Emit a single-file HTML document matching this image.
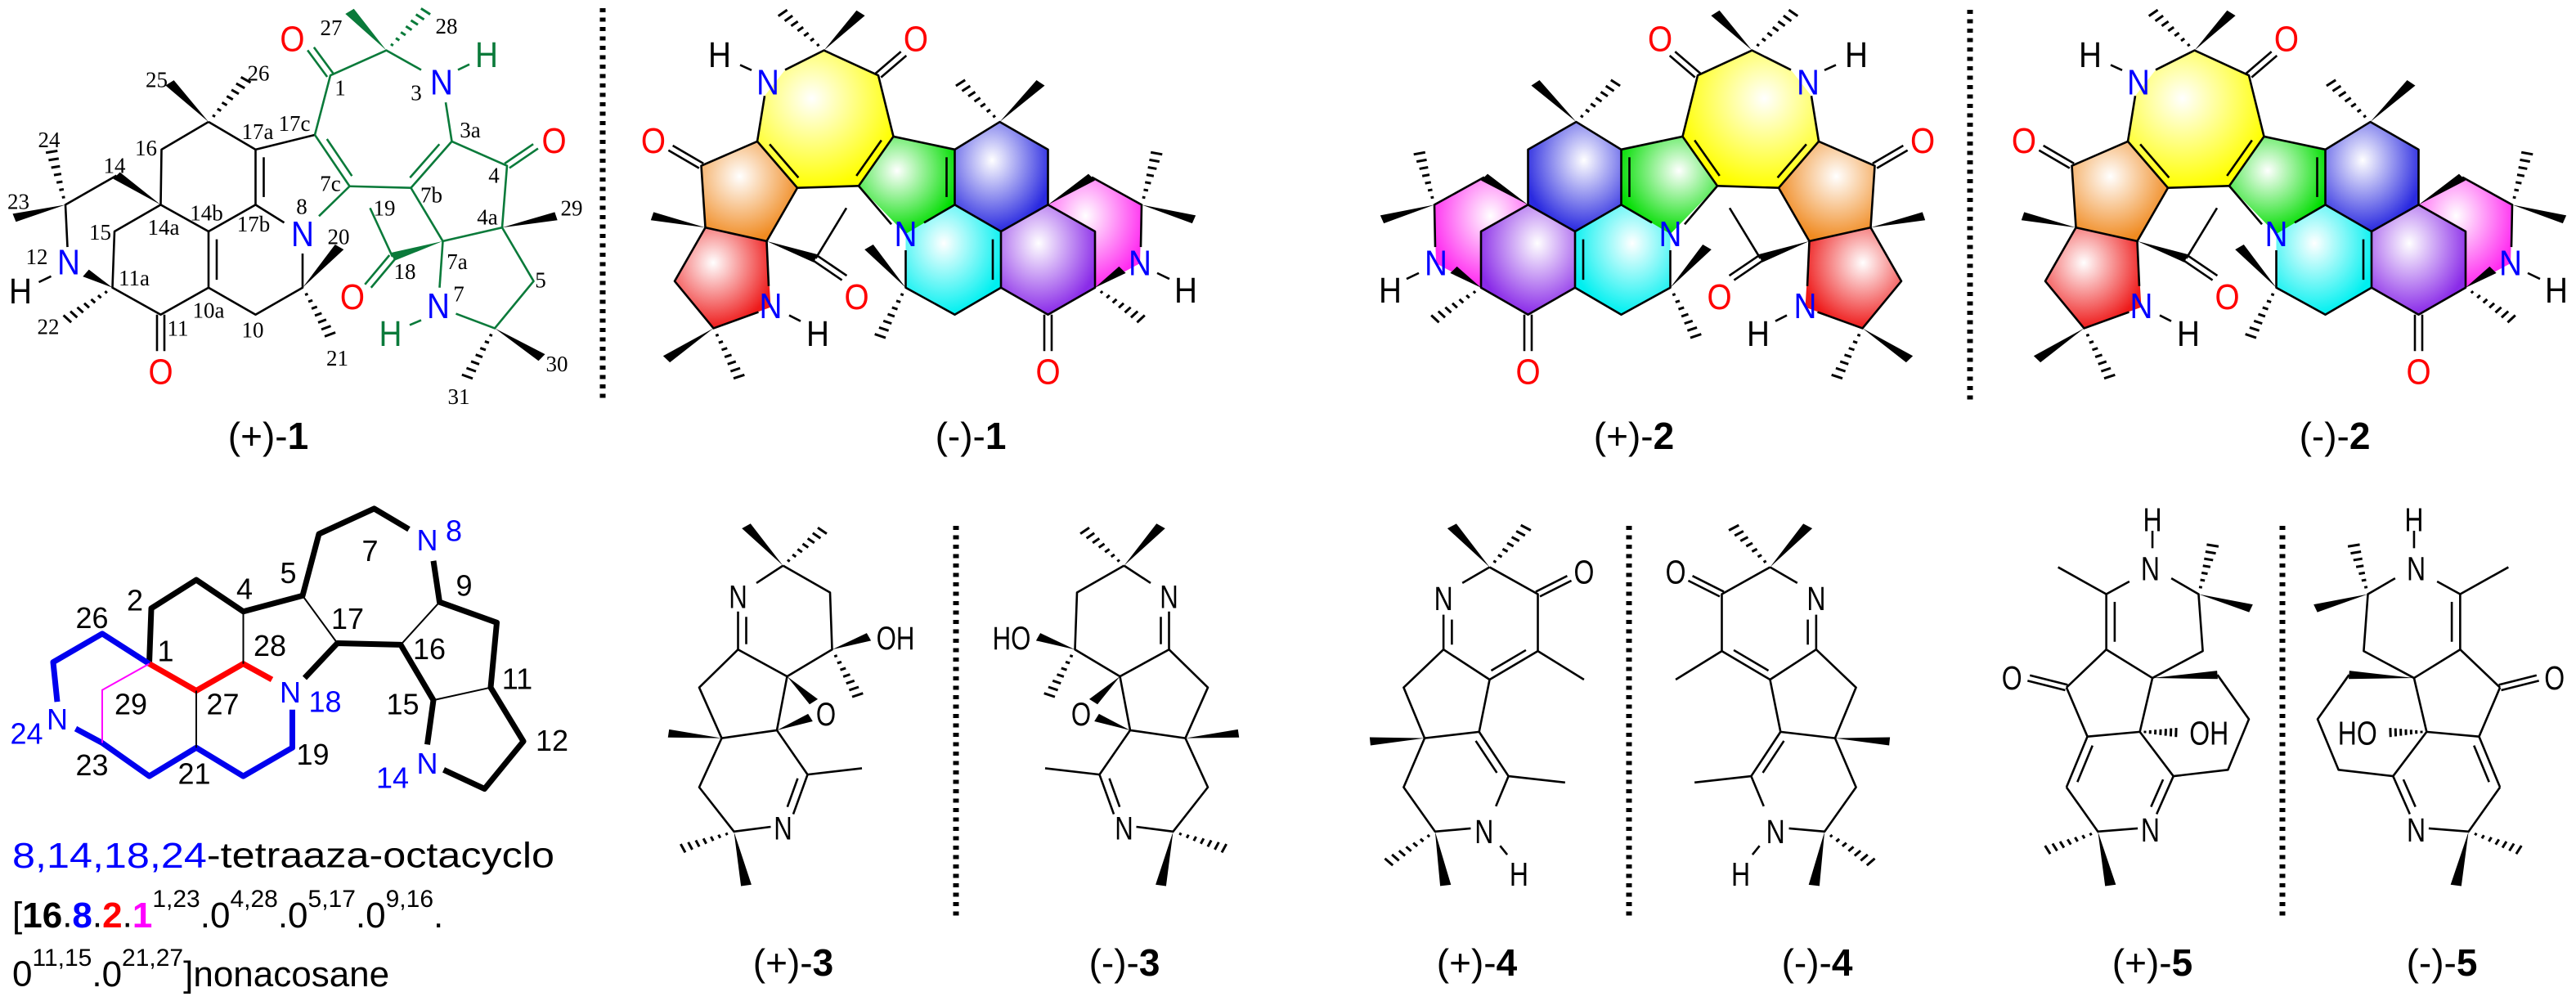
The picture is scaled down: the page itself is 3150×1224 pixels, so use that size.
<!DOCTYPE html>
<html><head><meta charset="utf-8">
<style>
html,body{margin:0;padding:0;background:#fff;}
svg{display:block;}
text{text-anchor:middle;dominant-baseline:central;}
.sans{font-family:"Liberation Sans",sans-serif;}
.serif{font-family:"Liberation Serif",serif;}
.a1{transform-box:fill-box;transform-origin:center;transform:scale(0.88,1.258);}
.n1{transform-box:fill-box;transform-origin:center;transform:scale(1,1.258);}
.b2{transform-box:fill-box;transform-origin:center;transform:scale(0.78,1.2915);}
.b7{transform-box:fill-box;transform-origin:center;transform:scale(0.78,1.3246);}
.c2{transform-box:fill-box;transform-origin:center;transform:scale(1,1.2915);}
</style></head><body>
<svg id="s" xmlns="http://www.w3.org/2000/svg" width="3150" height="1224" viewBox="0 0 3150 1224">
<defs>
<radialGradient id="gY" cx="40%" cy="35%" r="65%"><stop offset="0" stop-color="#fff"/><stop offset="1" stop-color="#ffff00"/></radialGradient>
<radialGradient id="gG" cx="40%" cy="35%" r="65%"><stop offset="0" stop-color="#fff"/><stop offset="1" stop-color="#00dd00"/></radialGradient>
<radialGradient id="gB" cx="40%" cy="35%" r="65%"><stop offset="0" stop-color="#fff"/><stop offset="1" stop-color="#2a2ae0"/></radialGradient>
<radialGradient id="gC" cx="40%" cy="35%" r="65%"><stop offset="0" stop-color="#fff"/><stop offset="1" stop-color="#00f0f0"/></radialGradient>
<radialGradient id="gP" cx="40%" cy="35%" r="65%"><stop offset="0" stop-color="#fff"/><stop offset="1" stop-color="#8a2be8"/></radialGradient>
<radialGradient id="gM" cx="40%" cy="35%" r="65%"><stop offset="0" stop-color="#fff"/><stop offset="1" stop-color="#ff2cf0"/></radialGradient>
<radialGradient id="gO" cx="40%" cy="35%" r="65%"><stop offset="0" stop-color="#fff"/><stop offset="1" stop-color="#f08a20"/></radialGradient>
<radialGradient id="gR" cx="40%" cy="35%" r="65%"><stop offset="0" stop-color="#fff"/><stop offset="1" stop-color="#ee1a1a"/></radialGradient>
</defs>

<g stroke="#000" stroke-width="7" stroke-dasharray="5 6.5">
<line x1="737" y1="10" x2="737" y2="491"/>
<line x1="2409" y1="12" x2="2409" y2="491"/>
<line x1="1169" y1="643" x2="1169" y2="1123"/>
<line x1="1992" y1="643" x2="1992" y2="1123"/>
<line x1="2791" y1="643" x2="2791" y2="1123"/>
</g>

<g id="g1" transform="translate(0,0) scale(0.5,0.39746)"></g>
<g id="g2" transform="translate(780,0) scale(0.5,0.39746)"></g>
<g id="g3" transform="translate(2370,0) scale(-0.5,0.39746)"></g>
<g id="g4" transform="translate(2456,0) scale(0.5,0.39746)"></g>
<g id="g5" transform="translate(0,620) scale(0.5,0.38715)"></g>
<g id="g6" transform="translate(780,620) scale(0.5,0.38715)"></g>
<g id="g7" transform="translate(1552,620) scale(-0.5,0.38715)"></g>
<g id="g8" transform="translate(1560,620) scale(0.51282,0.38715)"></g>
<g id="g9" transform="translate(2426,620) scale(-0.51282,0.38715)"></g>
<g id="g10" transform="translate(2350,620) scale(0.51282,0.38715)"></g>
<g id="g11" transform="translate(3234,620) scale(-0.51282,0.38715)"></g>

<g transform="translate(0,0) scale(0.5,0.39746)">
<g class="sans" font-size="88">
<text class="a1" x="715" y="118" fill="#f00">O</text>
<text class="a1" x="1080" y="252" fill="#00f">N</text>
<text class="a1" x="1190" y="168" fill="#0a7a3a">H</text>
<text class="a1" x="1355" y="432" fill="#f00">O</text>
<text class="a1" x="740" y="718" fill="#00f">N</text>
<text class="a1" x="168" y="805" fill="#00f">N</text>
<text class="a1" x="50" y="895" fill="#000">H</text>
<text class="a1" x="393" y="1142" fill="#f00">O</text>
<text class="a1" x="862" y="912" fill="#f00">O</text>
<text class="a1" x="1072" y="940" fill="#00f">N</text>
<text class="a1" x="955" y="1025" fill="#0a7a3a">H</text>
</g>
<g class="serif" font-size="54" fill="#000">
<text class="n1" x="810" y="85">27</text><text class="n1" x="1092" y="80">28</text>
<text class="n1" x="832" y="270">1</text><text class="n1" x="1018" y="285">3</text>
<text class="n1" x="383" y="245">25</text><text class="n1" x="632" y="225">26</text>
<text class="n1" x="630" y="405">17a</text><text class="n1" x="720" y="380">17c</text>
<text class="n1" x="1150" y="400">3a</text><text class="n1" x="120" y="430">24</text>
<text class="n1" x="357" y="455">16</text><text class="n1" x="280" y="510">14</text>
<text class="n1" x="45" y="620">23</text><text class="n1" x="1208" y="540">4</text>
<text class="n1" x="808" y="565">7c</text><text class="n1" x="1055" y="600">7b</text>
<text class="n1" x="940" y="640">19</text><text class="n1" x="1398" y="640">29</text>
<text class="n1" x="738" y="635">8</text><text class="n1" x="505" y="655">14b</text>
<text class="n1" x="620" y="690">17b</text><text class="n1" x="1192" y="668">4a</text>
<text class="n1" x="245" y="715">15</text><text class="n1" x="400" y="700">14a</text>
<text class="n1" x="828" y="728">20</text><text class="n1" x="90" y="790">12</text>
<text class="n1" x="328" y="855">11a</text><text class="n1" x="990" y="835">18</text>
<text class="n1" x="1118" y="805">7a</text><text class="n1" x="1322" y="862">5</text>
<text class="n1" x="1122" y="905">7</text><text class="n1" x="510" y="955">10a</text>
<text class="n1" x="435" y="1010">11</text><text class="n1" x="118" y="1005">22</text>
<text class="n1" x="618" y="1015">10</text><text class="n1" x="825" y="1102">21</text>
<text class="n1" x="1362" y="1120">30</text><text class="n1" x="1122" y="1220">31</text>
</g>
</g>

<g class="sans" font-size="88" transform="translate(780,0) scale(0.5,0.39746)">
<text class="a1" x="200" y="168">H</text>
<text class="a1" x="318" y="252" fill="#00f">N</text>
<text class="a1" x="680" y="118" fill="#f00">O</text>
<text class="a1" x="38" y="432" fill="#f00">O</text>
<text class="a1" x="655" y="718" fill="#00f">N</text>
<text class="a1" x="325" y="940" fill="#00f">N</text>
<text class="a1" x="440" y="1025">H</text>
<text class="a1" x="535" y="912" fill="#f00">O</text>
<text class="a1" x="1228" y="808" fill="#00f">N</text>
<text class="a1" x="1340" y="892">H</text>
<text class="a1" x="1003" y="1142" fill="#f00">O</text>
</g>
<g class="sans" font-size="88" transform="translate(2456,0) scale(0.5,0.39746)">
<text class="a1" x="200" y="168">H</text>
<text class="a1" x="318" y="252" fill="#00f">N</text>
<text class="a1" x="680" y="118" fill="#f00">O</text>
<text class="a1" x="38" y="432" fill="#f00">O</text>
<text class="a1" x="655" y="718" fill="#00f">N</text>
<text class="a1" x="325" y="940" fill="#00f">N</text>
<text class="a1" x="440" y="1025">H</text>
<text class="a1" x="535" y="912" fill="#f00">O</text>
<text class="a1" x="1228" y="808" fill="#00f">N</text>
<text class="a1" x="1340" y="892">H</text>
<text class="a1" x="1003" y="1142" fill="#f00">O</text>
</g>
<g class="sans" font-size="88" transform="translate(2370,0) scale(0.5,0.39746)">
<text class="a1" x="-200" y="168">H</text>
<text class="a1" x="-318" y="252" fill="#00f">N</text>
<text class="a1" x="-680" y="118" fill="#f00">O</text>
<text class="a1" x="-38" y="432" fill="#f00">O</text>
<text class="a1" x="-655" y="718" fill="#00f">N</text>
<text class="a1" x="-325" y="940" fill="#00f">N</text>
<text class="a1" x="-440" y="1025">H</text>
<text class="a1" x="-535" y="912" fill="#f00">O</text>
<text class="a1" x="-1228" y="808" fill="#00f">N</text>
<text class="a1" x="-1340" y="892">H</text>
<text class="a1" x="-1003" y="1142" fill="#f00">O</text>
</g>

<g class="sans" font-size="46" fill="#000">
<text x="328" y="533">(+)-<tspan font-weight="bold">1</tspan></text>
<text x="1187" y="533">(-)-<tspan font-weight="bold">1</tspan></text>
<text x="1998" y="533">(+)-<tspan font-weight="bold">2</tspan></text>
<text x="2855" y="533">(-)-<tspan font-weight="bold">2</tspan></text>
</g>

<g class="sans" transform="translate(0,620) scale(0.5,0.38715)">
<g font-size="72" fill="#00f">
<text class="c2" x="1045" y="105">N</text><text class="c2" x="1110" y="75">8</text>
<text class="c2" x="710" y="585">N</text><text class="c2" x="795" y="615">18</text>
<text class="c2" x="140" y="670">N</text><text class="c2" x="65" y="715">24</text>
<text class="c2" x="960" y="855">14</text><text class="c2" x="1045" y="810">N</text>
</g>
<g font-size="72" fill="#000">
<text class="c2" x="330" y="295">2</text><text class="c2" x="225" y="350">26</text>
<text class="c2" x="405" y="455">1</text><text class="c2" x="598" y="258">4</text>
<text class="c2" x="705" y="208">5</text><text class="c2" x="905" y="138">7</text>
<text class="c2" x="1135" y="248">9</text><text class="c2" x="850" y="352">17</text>
<text class="c2" x="660" y="438">28</text><text class="c2" x="1050" y="448">16</text>
<text class="c2" x="1265" y="542">11</text><text class="c2" x="985" y="622">15</text>
<text class="c2" x="545" y="622">27</text><text class="c2" x="320" y="622">29</text>
<text class="c2" x="225" y="815">23</text><text class="c2" x="475" y="842">21</text>
<text class="c2" x="765" y="782">19</text><text class="c2" x="1350" y="738">12</text>
</g>
</g>
<g class="sans" font-size="44" fill="#000" style="dominant-baseline:alphabetic">
<text x="15" y="1046" textLength="663" lengthAdjust="spacingAndGlyphs" style="text-anchor:start"><tspan fill="#00f">8,14,18,24</tspan>-tetraaza-octacyclo</text>
<text x="15" y="1119" style="text-anchor:start">[<tspan font-weight="bold">16</tspan>.<tspan font-weight="bold" fill="#00f">8</tspan>.<tspan font-weight="bold" fill="#f00">2</tspan>.<tspan font-weight="bold" fill="#f0f">1</tspan><tspan font-size="30" dy="-20">1,23</tspan><tspan dy="20">.0</tspan><tspan font-size="30" dy="-20">4,28</tspan><tspan dy="20">.0</tspan><tspan font-size="30" dy="-20">5,17</tspan><tspan dy="20">.0</tspan><tspan font-size="30" dy="-20">9,16</tspan><tspan dy="20">.</tspan></text>
<text x="15" y="1191" style="text-anchor:start">0<tspan font-size="30" dy="-20">11,15</tspan><tspan dy="20">.0</tspan><tspan font-size="30" dy="-20">21,27</tspan><tspan dy="20">]nonacosane</tspan></text>
</g>

<g class="sans" font-size="80" transform="translate(780,620) scale(0.5,0.38715)">
<text class="b2" x="245" y="285">N</text><text class="b2" x="630" y="415">OH</text>
<text class="b2" x="460" y="655">O</text><text class="b2" x="355" y="1015">N</text>
</g>
<g class="sans" font-size="80" transform="translate(1552,620) scale(0.5,0.38715)">
<text class="b2" x="-245" y="285">N</text><text class="b2" x="-630" y="415">HO</text>
<text class="b2" x="-460" y="655">O</text><text class="b2" x="-355" y="1015">N</text>
</g>
<g class="sans" font-size="80" transform="translate(1560,620) scale(0.51282,0.38715)">
<text class="b7" x="400" y="290">N</text><text class="b7" x="735" y="205">O</text>
<text class="b7" x="497" y="1025">N</text><text class="b7" x="580" y="1160">H</text>
</g>
<g class="sans" font-size="80" transform="translate(2426,620) scale(0.51282,0.38715)">
<text class="b7" x="-400" y="290">N</text><text class="b7" x="-735" y="205">O</text>
<text class="b7" x="-497" y="1025">N</text><text class="b7" x="-580" y="1160">H</text>
</g>
<g class="sans" font-size="80" transform="translate(2350,620) scale(0.51282,0.38715)">
<text class="b7" x="550" y="40">H</text><text class="b7" x="545" y="195">N</text>
<text class="b7" x="215" y="540">O</text><text class="b7" x="685" y="715">OH</text>
<text class="b7" x="545" y="1020">N</text>
</g>
<g class="sans" font-size="80" transform="translate(3234,620) scale(0.51282,0.38715)">
<text class="b7" x="-550" y="40">H</text><text class="b7" x="-545" y="195">N</text>
<text class="b7" x="-215" y="540">O</text><text class="b7" x="-685" y="715">HO</text>
<text class="b7" x="-545" y="1020">N</text>
</g>

<g class="sans" font-size="46" fill="#000">
<text x="970" y="1177">(+)-<tspan font-weight="bold">3</tspan></text>
<text x="1375" y="1177">(-)-<tspan font-weight="bold">3</tspan></text>
<text x="1806" y="1177">(+)-<tspan font-weight="bold">4</tspan></text>
<text x="2222" y="1177">(-)-<tspan font-weight="bold">4</tspan></text>
<text x="2632" y="1177">(+)-<tspan font-weight="bold">5</tspan></text>
<text x="2986" y="1177">(-)-<tspan font-weight="bold">5</tspan></text>
</g>
</svg>

<script>
(function(){
var NS='http://www.w3.org/2000/svg';
function mk(g,tag,a){var e=document.createElementNS(NS,tag);for(var k in a)e.setAttribute(k,a[k]);g.appendChild(e);return e;}
function L(g,pts,c,w){mk(g,'polyline',{points:pts.map(function(p){return p[0]+','+p[1];}).join(' '),fill:'none',stroke:c||'#000','stroke-width':w||2.6,'vector-effect':'non-scaling-stroke','stroke-linejoin':'round'});}
function nrm(a,b){var dx=b[0]-a[0],dy=b[1]-a[1],l=Math.hypot(dx,dy);return [dx,dy,-dy/l,dx/l];}
function D(g,a,b,s,c){var n=nrm(a,b),dx=n[0],dy=n[1],nx=n[2],ny=n[3];
 if(s===0){var o=9;L(g,[[a[0]+nx*o,a[1]+ny*o],[b[0]+nx*o,b[1]+ny*o]],c);L(g,[[a[0]-nx*o,a[1]-ny*o],[b[0]-nx*o,b[1]-ny*o]],c);}
 else{L(g,[a,b],c);var o2=20*s,t=0.14;L(g,[[a[0]+dx*t+nx*o2,a[1]+dy*t+ny*o2],[b[0]-dx*t+nx*o2,b[1]-dy*t+ny*o2]],c);}}
function W(g,a,b,c){var n=nrm(a,b),w=13;mk(g,'polygon',{points:a[0]+','+a[1]+' '+(b[0]+n[2]*w)+','+(b[1]+n[3]*w)+' '+(b[0]-n[2]*w)+','+(b[1]-n[3]*w),fill:c||'#000'});}
function H(g,a,b,c){var n=nrm(a,b);for(var i=1;i<=7;i++){var t=i/7.3,px=a[0]+n[0]*t,py=a[1]+n[1]*t,hw=2+t*13;L(g,[[px+n[2]*hw,py+n[3]*hw],[px-n[2]*hw,py-n[3]*hw]],c,3);}}
function F(g,pts,id){mk(g,'polygon',{points:pts.map(function(p){return p[0]+','+p[1];}).join(' '),fill:'url(#'+id+')',stroke:'none'});}
function $(id){return document.getElementById(id);}

function m1(g){var G='#0a7a3a';
 L(g,[[510,375],[395,460],[393,630],[510,712],[625,630]]);
 D(g,[625,630],[625,460],1);
 L(g,[[625,460],[510,375]]);
 L(g,[[393,630],[280,712],[275,885],[393,968],[510,885]]);
 D(g,[393,968],[393,1080],0);
 D(g,[510,885],[510,712],1);
 L(g,[[510,885],[625,968],[740,885],[740,780]]);
 L(g,[[695,685],[625,630]]);
 W(g,[393,630],[285,540]);
 L(g,[[285,540],[160,630],[165,760]]);
 L(g,[[125,850],[95,868]]);
 W(g,[275,885],[210,840]);
 H(g,[160,630],[125,460]);W(g,[160,630],[35,670]);H(g,[275,885],[160,985]);
 W(g,[510,375],[415,255]);H(g,[510,375],[605,240]);
 W(g,[740,885],[830,760]);H(g,[740,885],[810,1035]);
 L(g,[[625,460],[770,415]]);
 D(g,[770,415],[855,573],-1,G);
 L(g,[[855,573],[780,665]],G);
 L(g,[[855,573],[1005,578]],G);
 L(g,[[770,415],[808,232],[945,155],[1030,215]],G);
 D(g,[808,232],[760,150],0,G);
 L(g,[[1090,315],[1105,435]],G);
 D(g,[1105,435],[1005,578],1,G);
 L(g,[[1105,435],[1240,510],[1228,700]],G);
 D(g,[1240,510],[1310,450],0,G);
 L(g,[[1005,578],[1083,742],[1228,700],[1305,865],[1210,1010],[1115,965]],G);
 L(g,[[1075,885],[1083,742]],G);
 L(g,[[1030,985],[1002,1000]],G);
 L(g,[[1120,215],[1148,198]],G);
 W(g,[1083,742],[960,790],G);
 L(g,[[960,790],[905,640]],G);
 D(g,[960,790],[900,880],0,G);
 W(g,[945,155],[855,35],G);H(g,[945,155],[1045,30],G);
 W(g,[1228,700],[1360,665]);W(g,[1210,1010],[1325,1100]);H(g,[1210,1010],[1140,1165]);
}
m1($('g1'));

function m2(g){
 F(g,[[455,155],[588,232],[625,420],[540,572],[390,578],[292,435],[310,295],[360,215]],'gY');
 F(g,[[625,420],[775,460],[775,630],[655,720],[540,572]],'gG');
 F(g,[[885,375],[1003,460],[1003,630],[888,712],[775,630],[775,460]],'gB');
 F(g,[[775,630],[888,712],[888,885],[775,968],[655,885],[655,720]],'gC');
 F(g,[[1003,630],[1118,712],[1118,885],[1003,968],[888,885],[888,712]],'gP');
 F(g,[[1110,545],[1232,630],[1228,810],[1118,885],[1118,712],[1003,630]],'gM');
 F(g,[[292,435],[390,578],[315,742],[165,700],[155,510]],'gO');
 F(g,[[165,700],[315,742],[325,945],[185,1010],[90,865]],'gR');
 L(g,[[360,215],[455,155],[588,232],[625,420]]);
 L(g,[[310,295],[292,435]]);
 D(g,[588,232],[650,165],0);
 D(g,[625,420],[540,572],1);
 L(g,[[540,572],[390,578]]);
 D(g,[390,578],[292,435],1);
 L(g,[[292,435],[155,510],[165,700],[315,742],[390,578]]);
 D(g,[155,510],[80,455],0);
 L(g,[[165,700],[90,865],[185,1010],[295,960]]);
 L(g,[[320,880],[315,742]]);
 L(g,[[370,970],[398,988]]);L(g,[[250,200],[278,216]]);
 W(g,[315,742],[435,795]);
 L(g,[[435,795],[510,640]]);
 D(g,[435,795],[505,855],0);
 L(g,[[625,420],[775,460]]);
 D(g,[775,460],[775,630],1);
 L(g,[[775,630],[700,685]]);L(g,[[620,690],[540,572]]);
 L(g,[[775,460],[885,375],[1003,460],[1003,630],[888,712],[775,630]]);
 D(g,[888,712],[888,885],1);
 L(g,[[888,885],[775,968],[655,885],[655,770]]);
 L(g,[[1003,630],[1118,712],[1118,885],[1003,968],[888,885]]);
 D(g,[1003,968],[1003,1080],0);
 W(g,[1003,630],[1110,545]);
 L(g,[[1110,545],[1232,630],[1230,760]]);
 W(g,[1118,885],[1185,830]);
 L(g,[[1270,840],[1300,858]]);
 W(g,[455,155],[545,40]);H(g,[455,155],[350,35]);
 W(g,[885,375],[985,255]);H(g,[885,375],[785,250]);
 W(g,[165,700],[35,665]);
 W(g,[185,1010],[70,1105]);H(g,[185,1010],[250,1165]);
 H(g,[1232,630],[1270,465]);W(g,[1232,630],[1360,675]);
 W(g,[655,885],[565,760]);H(g,[655,885],[590,1040]);
 H(g,[1118,885],[1235,985]);
}
m2($('g2'));m2($('g3'));m2($('g4'));

(function(g){
 var K='#000',Bl='#0000ee',R='#f00',Mg='#f0f';
 L(g,[[365,495],[370,320],[480,230],[595,330],[740,280],[780,85],[915,5],[1000,70]],K,7);
 L(g,[[1060,170],[1075,300],[1215,365],[1200,570],[1280,740],[1185,890],[1085,830]],K,7);
 L(g,[[1045,750],[1060,610],[980,435],[825,430],[745,540]],K,7);
 L(g,[[365,495],[250,400],[130,490],[140,615]],Bl,7);
 L(g,[[185,700],[250,745],[365,850],[480,760],[595,850],[715,760],[715,640]],Bl,7);
 L(g,[[365,495],[480,580],[595,495],[665,545]],R,7);
 L(g,[[365,495],[250,578],[250,745]],Mg,2);
 L(g,[[480,580],[480,760]],K,2);L(g,[[595,495],[595,330]],K,2);
 L(g,[[740,280],[825,430]],K,2);L(g,[[980,435],[1075,300]],K,2);
 L(g,[[1060,610],[1200,570]],K,2);
})($('g5'));

function m3(g){
 W(g,[355,185],[265,60]);H(g,[355,185],[455,70]);
 L(g,[[355,185],[290,240]]);
 D(g,[245,330],[245,450],-1);
 L(g,[[355,185],[470,270],[475,450],[365,535],[245,450],[150,570],[205,730],[340,705],[365,535]]);
 W(g,[475,450],[565,410]);H(g,[475,450],[540,600]);
 W(g,[365,535],[430,615]);W(g,[340,705],[422,665]);
 W(g,[205,730],[75,715]);
 L(g,[[205,730],[150,885],[235,1025],[325,1010]]);
 L(g,[[340,705],[415,845],[548,825]]);
 D(g,[380,970],[415,845],-1);
 W(g,[235,1025],[265,1195]);H(g,[235,1025],[105,1080]);
}
m3($('g6'));m3($('g7'));

function m4(g){
 W(g,[510,190],[420,60]);H(g,[510,190],[600,60]);
 L(g,[[510,190],[445,240]]);
 D(g,[400,340],[400,450],-1);
 L(g,[[510,190],[625,275],[625,455]]);
 D(g,[625,275],[700,225],0);
 D(g,[625,455],[510,545],1);
 L(g,[[625,455],[735,545]]);
 L(g,[[510,545],[400,450],[305,570],[355,730],[485,710],[510,545]]);
 D(g,[485,710],[555,850],1);
 L(g,[[555,850],[690,870]]);
 L(g,[[555,850],[525,945]]);
 L(g,[[465,1015],[380,1025],[305,885],[355,730]]);
 W(g,[355,730],[225,740]);
 W(g,[380,1025],[405,1195]);H(g,[380,1025],[265,1125]);
 L(g,[[535,1070],[552,1098]]);
}
m4($('g8'));m4($('g9'));

function m5(g){
 L(g,[[550,75],[550,130]]);
 L(g,[[495,235],[440,275],[325,190]]);
 D(g,[440,275],[440,450],-1);
 L(g,[[595,225],[660,275],[670,455],[550,540],[440,450],[345,570]]);
 W(g,[660,275],[785,320]);H(g,[660,275],[695,115]);
 D(g,[345,570],[255,540],0);
 L(g,[[345,570],[395,725],[520,710],[550,540]]);
 W(g,[550,540],[705,530]);
 L(g,[[705,530],[780,670],[730,830],[600,850],[520,710]]);
 D(g,[600,850],[560,970],1);
 D(g,[395,725],[345,885],-1);
 L(g,[[345,885],[420,1025],[515,1015]]);
 W(g,[420,1025],[450,1195]);H(g,[420,1025],[295,1085]);
 H(g,[520,710],[610,712]);
}
m5($('g10'));m5($('g11'));
})();
</script>
</body></html>
